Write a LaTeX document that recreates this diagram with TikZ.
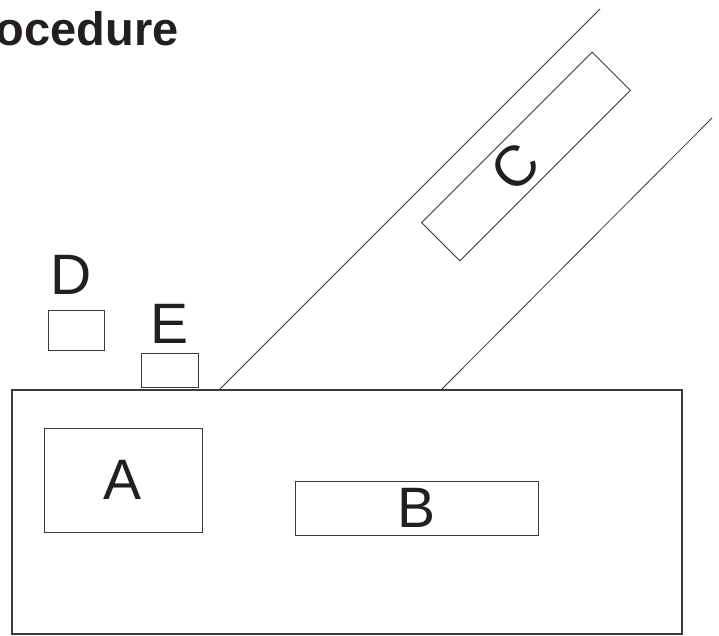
\documentclass[tikz,border=0pt]{standalone}
\usepackage{fontspec}
\setmainfont{Liberation Sans}
\usepackage{xcolor}
\definecolor{inkDark}{HTML}{231F20}
\definecolor{lineGray}{HTML}{3A3A3A}
\tikzset{
  box/.style={draw=lineGray, line width=0.9pt, rectangle, inner sep=0pt, outer sep=0pt,
              text=inkDark, font=\fontsize{57}{60}\selectfont},
  tag/.style={inner sep=0pt, text=inkDark, font=\fontsize{57}{60}\selectfont},
  rail/.style={draw=lineGray, line width=0.8pt},
}

\begin{document}
\begin{tikzpicture}[x=1pt, y=-1pt]
\useasboundingbox (0,0) rectangle (719,635);

% title (cut off at the left)
\node[inner sep=0pt, anchor=base east, text=inkDark, font=\bfseries\fontsize{47}{50}\selectfont]
  (title) at (179,45) {ocedure};

% base block with A and B
\node[box, line width=1.2pt, minimum width=670pt, minimum height=244pt] (base) at (347,512) {};
\node[box, minimum width=158pt, minimum height=104pt] (boxA) at (123,480) {A};
\node[box, minimum width=243pt, minimum height=54pt] (boxB) at (416.5,508) {B};

% small parts D and E
\node[box, minimum width=56pt, minimum height=40pt] (boxD) at (76,330) {};
\node[tag, anchor=base] (tagD) at (71,294) {D};
\node[box, minimum width=57pt, minimum height=34pt] (boxE) at (169.5,370) {};
\node[tag, anchor=base] (tagE) at (169.5,343) {E};

% inclined channel
\coordinate (railUp) at (600,9);
\coordinate (railLow) at (712,118);
\draw[rail] ([xshift=207pt]base.north west) -- (railUp);
\draw[rail] ([xshift=429pt]base.north west) -- (railLow);

% slot C along the channel
\node[box, rotate=45, minimum width=241pt, minimum height=54pt] (boxC) at (526,156.5) {};
\node[tag, rotate=45] (tagC) at (515,167) {C};

\end{tikzpicture}
\end{document}
